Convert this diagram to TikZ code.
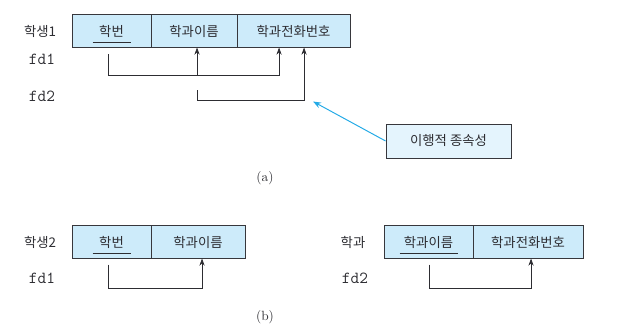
\documentclass[tikz,border=0pt]{standalone}
\usepackage{fontspec}
\newfontfamily\kr{Noto Sans CJK KR}
\usetikzlibrary{arrows.meta,positioning,calc}
\definecolor{cellblue}{RGB}{205,235,250}
\definecolor{noteblue}{RGB}{228,244,253}
\definecolor{edge}{RGB}{55,55,60}
\definecolor{sky}{RGB}{35,170,230}
\definecolor{ink}{RGB}{45,45,50}
\tikzset{
  >={Stealth[length=1.8mm,width=1.3mm]},
  cell/.style={draw=edge,fill=cellblue,line width=0.6pt,minimum height=8.25mm,
    minimum width=#1,inner sep=0pt,outer sep=0pt,text=ink,
    font=\kr\fontsize{9.5}{11}\selectfont},
  cell/.default=20mm,
  tag/.style={font=\kr\fontsize{9.5}{11}\selectfont,text=ink},
  fd/.style={font=\ttfamily\fontsize{12}{14}\selectfont,text=ink},
  caption/.style={font=\fontsize{9.5}{11}\selectfont,text=ink},
  flow/.style={->,draw=ink,line width=0.55pt},
  keyline/.style={draw=ink,line width=0.6pt},
  note/.style={draw=edge,fill=noteblue,line width=0.6pt,minimum width=31.25mm,
    minimum height=8.5mm,text=ink,font=\kr\fontsize{9.5}{11}\selectfont},
  hint/.style={-{Stealth[length=2mm,width=1.5mm]},draw=sky,line width=0.7pt},
}

\begin{document}
\begin{tikzpicture}[x=0.025cm,y=-0.025cm]
  \useasboundingbox (0,0) rectangle (618,333);
  % (a)
  \node[tag] (r1) at (40,31) {학생1};
  \node[cell=19.75mm,anchor=west] (a1) at (72,31) {학번};
  \node[cell=21.5mm,right=0pt of a1] (a2) {학과이름};
  \node[cell=28.25mm,right=0pt of a2] (a3) {학과전화번호};
  \node[fd] (f1) at (42,59) {fd1};
  \node[fd] (f2) at (42,96) {fd2};
  \coordinate (t1) at ($(a2.south)+(3,0)$);
  \coordinate (t2) at ($(a3.south)+(-14.5,0)$);
  \coordinate (t3) at ($(a3.south)+(10.5,0)$);
  \draw[flow] ($(a1.south)+(-3.5,7)$) -- ++(0,21) -| (t2);
  \draw[flow] ($(t1)+(0,28)$) -- (t1);
  \draw[flow] ($(t1)+(0,43)$) -- ++(0,10) -| (t3);
  \node[note] (n1) at (448.5,141) {이행적 종속성};
  \draw[hint] (n1.west) -- ($(t3)+(9,54)$);
  \node[caption] (la) at (265,178) {(a)};
  % (b)
  \node[tag] (r2) at (40,242) {학생2};
  \node[cell=19.75mm,anchor=west] (b1) at (72,242) {학번};
  \node[cell=23.5mm,right=0pt of b1] (b2) {학과이름};
  \node[fd] (f3) at (42,278) {fd1};
  \draw[flow] ($(b1.south)+(-3.5,6)$) -- ++(0,24) -| ($(b2.south)+(4,0)$);
  \node[tag] (r3) at (353,242) {학과};
  \node[cell=22.25mm,anchor=west] (c1) at (384,242) {학과이름};
  \node[cell=27.5mm,right=0pt of c1] (c2) {학과전화번호};
  \node[fd] (f4) at (355,278) {fd2};
  \draw[flow] ($(c1.south)+(0.5,6)$) -- ++(0,24) -| ($(c2.south)+(3,0)$);
  \foreach \k/\w in {a1/19,b1/19,c1/29}
    \draw[keyline] ($(\k.center)+(-\w,11)$) -- ++({2*\w},0);
  \node[caption] (lb) at (265,317) {(b)};
\end{tikzpicture}
\end{document}
